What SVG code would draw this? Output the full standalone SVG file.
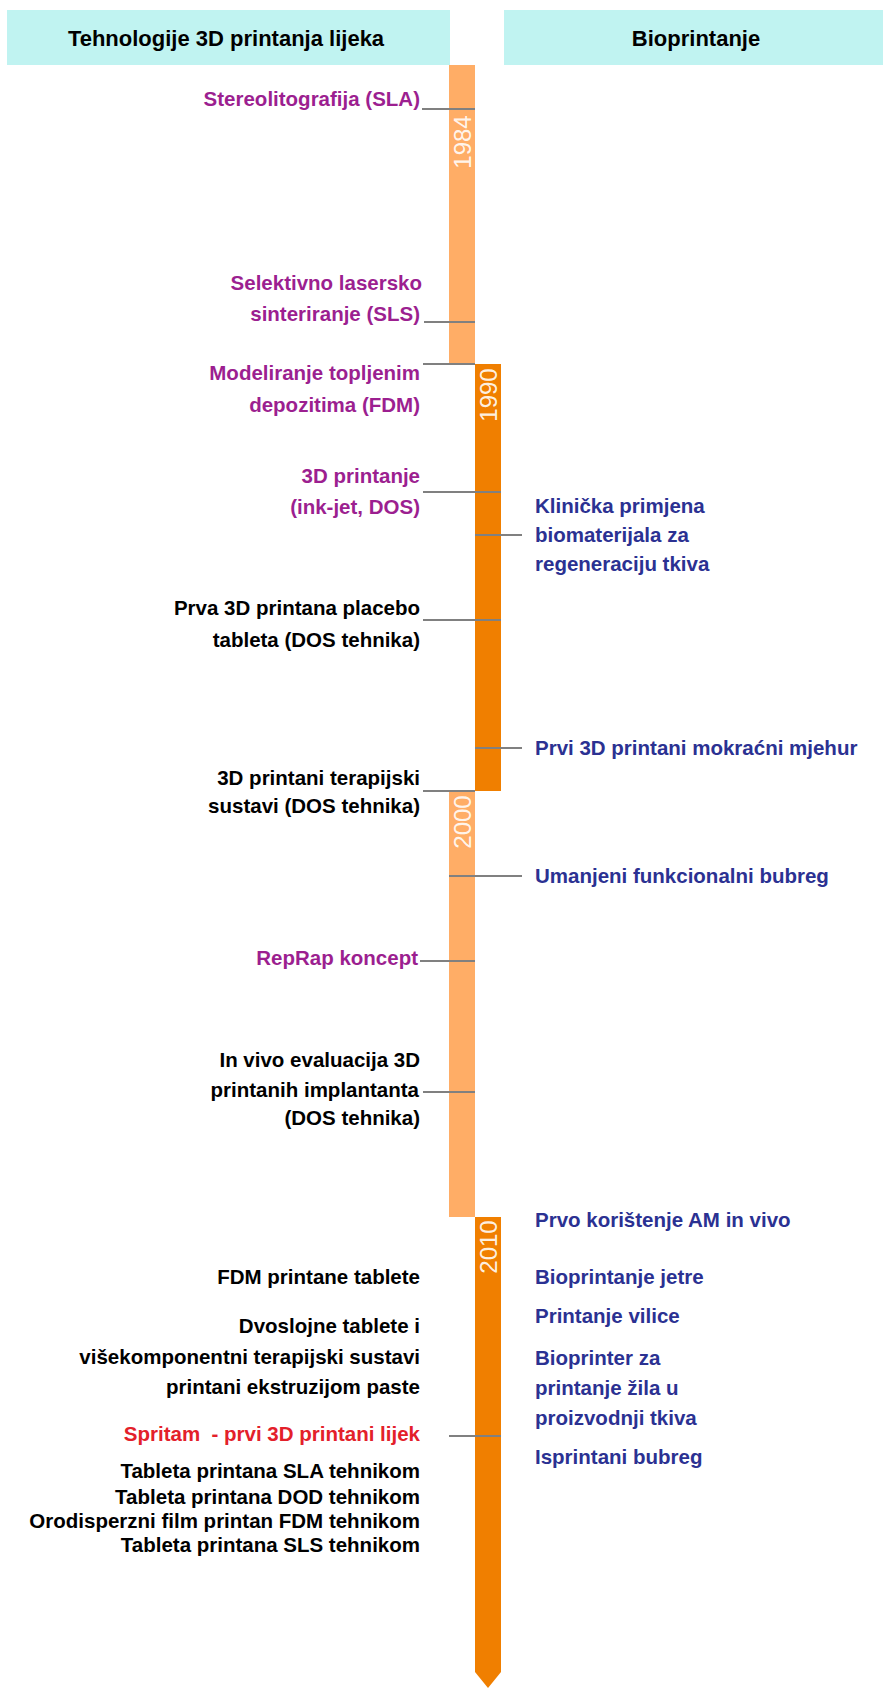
<svg xmlns="http://www.w3.org/2000/svg" width="883" height="1688" viewBox="0 0 883 1688">
<style>
text{font-family:"Liberation Sans",Arial,sans-serif;font-weight:bold;font-size:20.5px}
.hd{font-size:22px;fill:#000;text-anchor:middle}
.l{text-anchor:end}
.p{fill:#9C1F90}
.k{fill:#000}
.r{fill:#E3202A;white-space:pre}
.n{fill:#2B3192}
.yr{font-weight:normal;font-size:24px;fill:#fff;fill-opacity:0.9;text-anchor:middle}
.c line{stroke:#808080;stroke-width:2}
</style>
<rect width="883" height="1688" fill="#fff"/>
<g id="header-left"><rect x="7" y="10" width="443" height="55" fill="#C0F3F1"/><text class="hd" x="226" y="46">Tehnologije 3D printanja lijeka</text></g>
<g id="header-right"><rect x="504" y="10" width="379" height="55" fill="#C0F3F1"/><text class="hd" x="696" y="46">Bioprintanje</text></g>
<g id="timeline">
<rect x="449" y="65" width="26" height="299" fill="#FFAD66"/>
<rect x="475" y="364" width="26" height="427" fill="#F07F00"/>
<rect x="449" y="791" width="26" height="426" fill="#FFAD66"/>
<polygon points="475,1217 501,1217 501,1672 488,1688 475,1672" fill="#F07F00"/>
<text class="yr" transform="translate(470.5,142) rotate(-90)">1984</text>
<text class="yr" transform="translate(496.5,395) rotate(-90)">1990</text>
<text class="yr" transform="translate(470.5,822) rotate(-90)">2000</text>
<text class="yr" transform="translate(496.5,1247) rotate(-90)">2010</text>
</g>
<g id="connectors" class="c">
<line x1="422" y1="109" x2="475" y2="109"/>
<line x1="424" y1="322" x2="475" y2="322"/>
<line x1="423" y1="364" x2="475" y2="364"/>
<line x1="423" y1="492" x2="501" y2="492"/>
<line x1="475" y1="535" x2="522" y2="535"/>
<line x1="423" y1="620" x2="501" y2="620"/>
<line x1="475" y1="748" x2="522" y2="748"/>
<line x1="423" y1="791" x2="475" y2="791"/>
<line x1="449" y1="876" x2="522" y2="876"/>
<line x1="420" y1="961" x2="475" y2="961"/>
<line x1="423" y1="1092" x2="475" y2="1092"/>
<line x1="449" y1="1436" x2="501" y2="1436"/>
</g>
<g id="n-sla"><text class="l p" x="420" y="106">Stereolitografija (SLA)</text></g>
<g id="n-sls"><text class="l p" x="422" y="290">Selektivno lasersko</text><text class="l p" x="420" y="321">sinteriranje (SLS)</text></g>
<g id="n-fdm"><text class="l p" x="420" y="380">Modeliranje topljenim</text><text class="l p" x="420" y="412">depozitima (FDM)</text></g>
<g id="n-3dp"><text class="l p" x="420" y="483">3D printanje</text><text class="l p" x="420" y="514">(ink-jet, DOS)</text></g>
<g id="n-prva"><text class="l k" x="420" y="615">Prva 3D printana placebo</text><text class="l k" x="420" y="647">tableta (DOS tehnika)</text></g>
<g id="n-ter"><text class="l k" x="420" y="785">3D printani terapijski</text><text class="l k" x="420" y="813">sustavi (DOS tehnika)</text></g>
<g id="n-reprap"><text class="l p" x="418" y="965">RepRap koncept</text></g>
<g id="n-invivo"><text class="l k" x="420" y="1067">In vivo evaluacija 3D</text><text class="l k" x="419" y="1097">printanih implantanta</text><text class="l k" x="420" y="1125">(DOS tehnika)</text></g>
<g id="n-fdmtab"><text class="l k" x="420" y="1284">FDM printane tablete</text></g>
<g id="n-dvo"><text class="l k" x="420" y="1333">Dvoslojne tablete i</text><text class="l k" x="420" y="1364">višekomponentni terapijski sustavi</text><text class="l k" x="420" y="1394">printani ekstruzijom paste</text></g>
<g id="n-spritam"><text class="l r" x="420" y="1441" xml:space="preserve">Spritam  - prvi 3D printani lijek</text></g>
<g id="n-tab"><text class="l k" x="420" y="1478">Tableta printana SLA tehnikom</text><text class="l k" x="420" y="1504">Tableta printana DOD tehnikom</text><text class="l k" x="420" y="1528">Orodisperzni film printan FDM tehnikom</text><text class="l k" x="420" y="1552">Tableta printana SLS tehnikom</text></g>
<g id="n-klin"><text class="n" x="535" y="513">Klinička primjena</text><text class="n" x="535" y="542">biomaterijala za</text><text class="n" x="535" y="571">regeneraciju tkiva</text></g>
<g id="n-mjehur"><text class="n" x="535" y="755">Prvi 3D printani mokraćni mjehur</text></g>
<g id="n-bubreg"><text class="n" x="535" y="883">Umanjeni funkcionalni bubreg</text></g>
<g id="n-am"><text class="n" x="535" y="1227">Prvo korištenje AM in vivo</text></g>
<g id="n-jetra"><text class="n" x="535" y="1284">Bioprintanje jetre</text></g>
<g id="n-vilica"><text class="n" x="535" y="1323">Printanje vilice</text></g>
<g id="n-zile"><text class="n" x="535" y="1365">Bioprinter za</text><text class="n" x="535" y="1395">printanje žila u</text><text class="n" x="535" y="1425">proizvodnji tkiva</text></g>
<g id="n-isprint"><text class="n" x="535" y="1464">Isprintani bubreg</text></g>
</svg>
